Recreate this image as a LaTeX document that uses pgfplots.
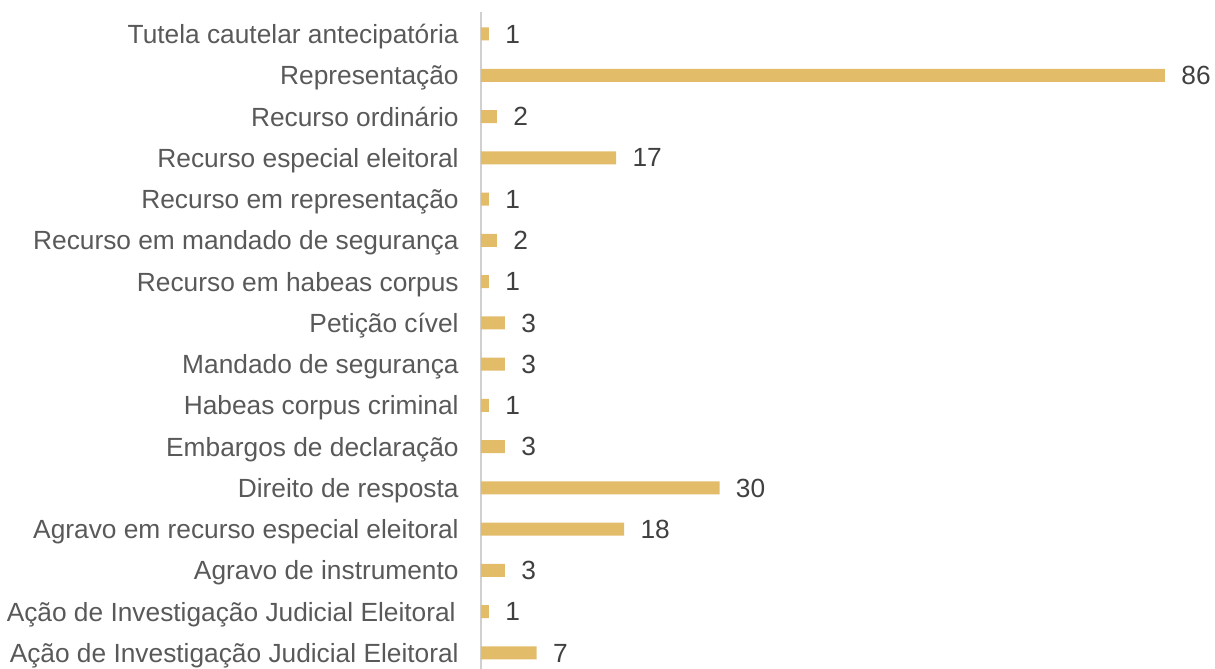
\documentclass[border=0pt]{standalone}
\usepackage{pgfplots}
\pgfplotsset{compat=1.18}
\usepackage{fontspec}
\setmainfont{Liberation Sans}
\definecolor{barc}{HTML}{E3BC6A}
\definecolor{txt}{HTML}{595959}
\definecolor{num}{HTML}{404040}
\definecolor{axc}{HTML}{D0D0D0}
\begin{document}
\begin{tikzpicture}
\useasboundingbox (0,0) rectangle (607.5pt,334.5pt);
\begin{axis}[
  at={(240.5pt,0pt)}, anchor=south west,
  scale only axis,
  width=342pt, height=328.5pt,
  xbar, bar width=6.5pt,
  xmin=0, xmax=86,
  ymin=-0.388, ymax=15.533,
  axis x line=none,
  axis y line*=left,
  y axis line style={draw=axc, line width=1pt, -},
  ytick={0,...,15},
  major tick length=0pt,
  /pgf/number format/assume math mode=true,
  yticklabels={
    {Ação de Investigação Judicial Eleitoral},
    {Ação de Investigação Judicial Eleitoral\kern1.5pt},
    {Agravo de instrumento},
    {Agravo em recurso especial eleitoral},
    {Direito de resposta},
    {Embargos de declaração},
    {Habeas corpus criminal},
    {Mandado de segurança},
    {Petição cível},
    {Recurso em habeas corpus},
    {Recurso em mandado de segurança},
    {Recurso em representação},
    {Recurso especial eleitoral},
    {Recurso ordinário},
    {Representação},
    {Tutela cautelar antecipatória}},
  yticklabel style={font=\fontsize{13.15pt}{15pt}\selectfont, text=txt, anchor=east, inner sep=0pt, text depth=0pt, xshift=-11pt},
  nodes near coords,
  nodes near coords style={font=\fontsize{13.15pt}{15pt}\selectfont, text=num, anchor=west, inner sep=0pt, text depth=0pt, xshift=8pt},
  point meta=x,
]
\addplot[fill=barc, draw=none] coordinates {
(7,0) (1,1) (3,2) (18,3) (30,4) (3,5) (1,6) (3,7) (3,8) (1,9) (2,10) (1,11) (17,12) (2,13) (86,14) (1,15)};
\end{axis}
\end{tikzpicture}
\end{document}
